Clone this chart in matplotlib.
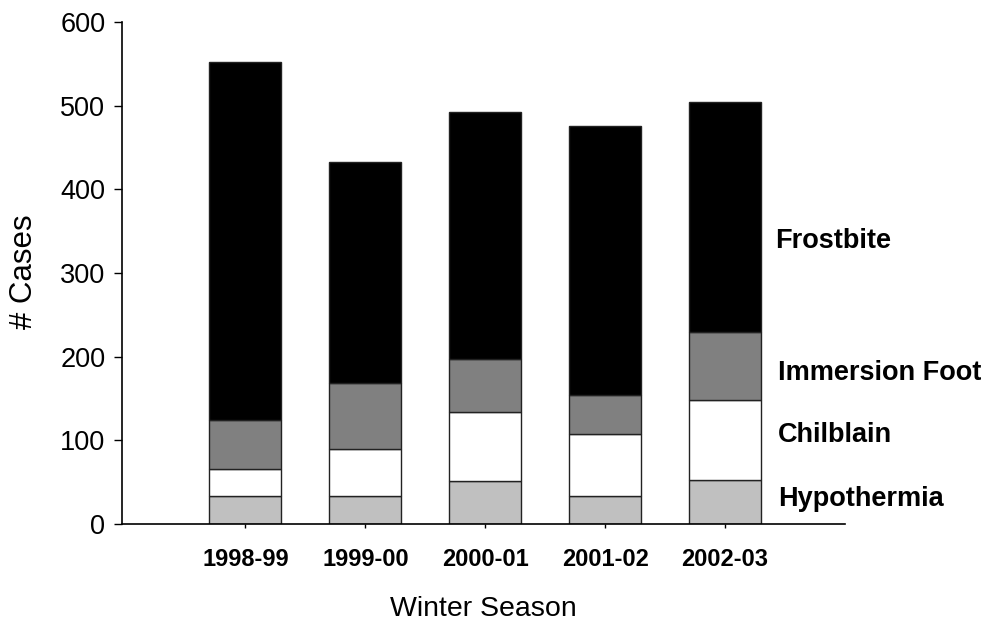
import matplotlib
matplotlib.use("Agg")
import matplotlib.pyplot as plt
import numpy as np

plt.rcParams['font.family'] = ['Liberation Sans', 'DejaVu Sans']

seasons = ["1998-99", "1999-00", "2000-01", "2001-02", "2002-03"]
hypothermia = [34, 34, 51, 34, 52]
chilblain = [32, 56, 83, 74, 96]
immersion_foot = [58, 78, 63, 46, 82]
frostbite = [428, 265, 295, 322, 274]

series_names = ["Hypothermia", "Chilblain", "Immersion Foot", "Frostbite"]
series_values = [hypothermia, chilblain, immersion_foot, frostbite]
series_colors = ["#c0c0c0", "#ffffff", "#808080", "#000000"]

fig = plt.figure(figsize=(9.9, 6.24), dpi=100)
ax = fig.add_axes([0.1232, 0.1603, 0.7303, 0.8044])

x = np.arange(len(seasons))
bottom = np.zeros(len(seasons))
for name, vals, col in zip(series_names, series_values, series_colors):
    ax.bar(x, vals, width=0.6, bottom=bottom, color=col,
           edgecolor="#222222", linewidth=1.0, label=name)
    bottom += np.array(vals)

ax.set_xlim(-1.03, 5.0)
ax.set_ylim(0, 600)
ax.set_yticks(range(0, 601, 100))
ax.set_xticks(x)
ax.set_xticklabels(seasons, fontweight="bold", fontsize=17)
ax.tick_params(axis="y", labelsize=19.5, length=6, width=1, pad=6)
ax.tick_params(axis="x", length=3, width=1, pad=14)

for side in ["top", "right"]:
    ax.spines[side].set_visible(False)
ax.spines["left"].set_linewidth(1.2)
ax.spines["bottom"].set_linewidth(1.2)

fig.text(24 / 990, 1 - 272 / 624, "# Cases", fontsize=22.5, rotation=90,
         ha="center", va="center")
ax.set_xlabel("Winter Season", fontsize=20.5, labelpad=18)

# series labels beside the last bar
label_pos = [(778, 499), (778, 435), (778, 373), (775, 241)]
for name, (px, py) in zip(series_names, label_pos):
    fig.text(px / 990, 1 - py / 624, name, fontsize=19.5, fontweight="bold",
             ha="left", va="center")

fig.savefig("out.png", dpi=100)
